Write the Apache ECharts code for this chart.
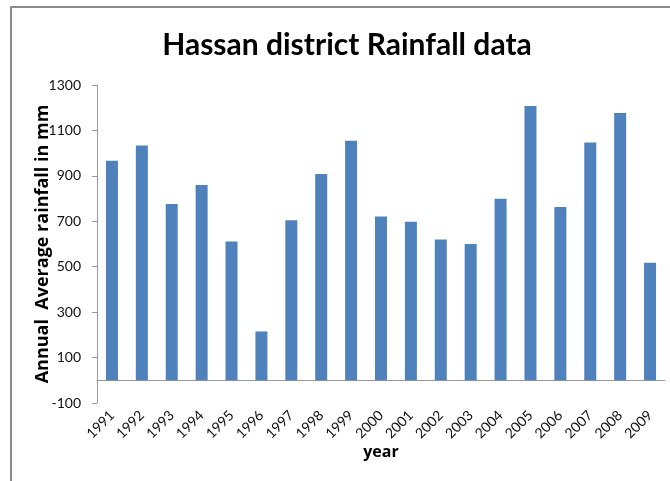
<!DOCTYPE html>
<html>
<head>
<meta charset="utf-8">
<script src="https://cdn.jsdelivr.net/npm/echarts@6/dist/echarts.min.js"></script>
<style>
    html, body { margin: 0; padding: 0; background: #fff; }
    #frame {
        position: absolute; left: 10px; top: 6px; width: 700px; height: 520px;
        border-left: 2px solid #8c8c8c; border-top: 2px solid #8c8c8c;
    }
    #chart { position: absolute; left: 0; top: 0; width: 670px; height: 481px; }
</style>
</head>
<body>
<div id="frame"></div>
<div id="chart"></div>
<script>
// years on the x axis
const years = ['1991', '1992', '1993', '1994', '1995', '1996', '1997', '1998', '1999', '2000',
    '2001', '2002', '2003', '2004', '2005', '2006', '2007', '2008', '2009'];
// annual average rainfall (mm)
const rainfall = [966, 1034, 776, 860, 611, 215, 705, 908, 1055, 721,
    698, 620, 600, 799, 1207, 763, 1047, 1177, 517];

let chart = echarts.init(document.getElementById('chart'));
let option = {
    animation: false,
    title: {
        text: 'Hassan district Rainfall data',
        left: 342,
        top: 25,
        textAlign: 'center',
        textStyle: { fontFamily: 'Lato', fontWeight: 'bold', fontSize: 30, color: '#000' }
    },
    grid: { left: 97, right: 5, top: 85, bottom: 78, outerBoundsMode: 'none' },
    xAxis: {
        type: 'category',
        data: years,
        name: 'year',
        nameLocation: 'middle',
        nameGap: 41,
        nameMoveOverlap: false,
        nameTextStyle: { fontFamily: 'Open Sans', fontWeight: 'bold', fontSize: 16, color: '#000' },
        axisLine: { onZero: true, lineStyle: { color: '#999' } },
        axisTick: { length: 5, lineStyle: { color: '#999' } },
        axisLabel: { rotate: 45, margin: 10, fontFamily: 'Lato', fontSize: 14, color: '#111' }
    },
    yAxis: {
        type: 'value',
        min: -100,
        max: 1300,
        interval: 200,
        name: 'Annual  Average rainfall in mm',
        nameLocation: 'middle',
        nameGap: 45,
        nameMoveOverlap: false,
        nameTextStyle: { fontFamily: 'Open Sans', fontWeight: 'bold', fontSize: 18, color: '#000' },
        splitLine: { show: false },
        axisLine: { show: true, lineStyle: { color: '#999' } },
        axisTick: { show: true, length: 5, lineStyle: { color: '#999' } },
        axisLabel: {
            margin: 16, fontFamily: 'Lato', fontSize: 14, color: '#111',
            formatter: function (v) { return String(v); }
        }
    },
    series: [{
        type: 'bar',
        data: rainfall,
        barWidth: 12,
        itemStyle: { color: '#4f81bd' }
    }]
};
chart.setOption(option);
</script>
</body>
</html>
